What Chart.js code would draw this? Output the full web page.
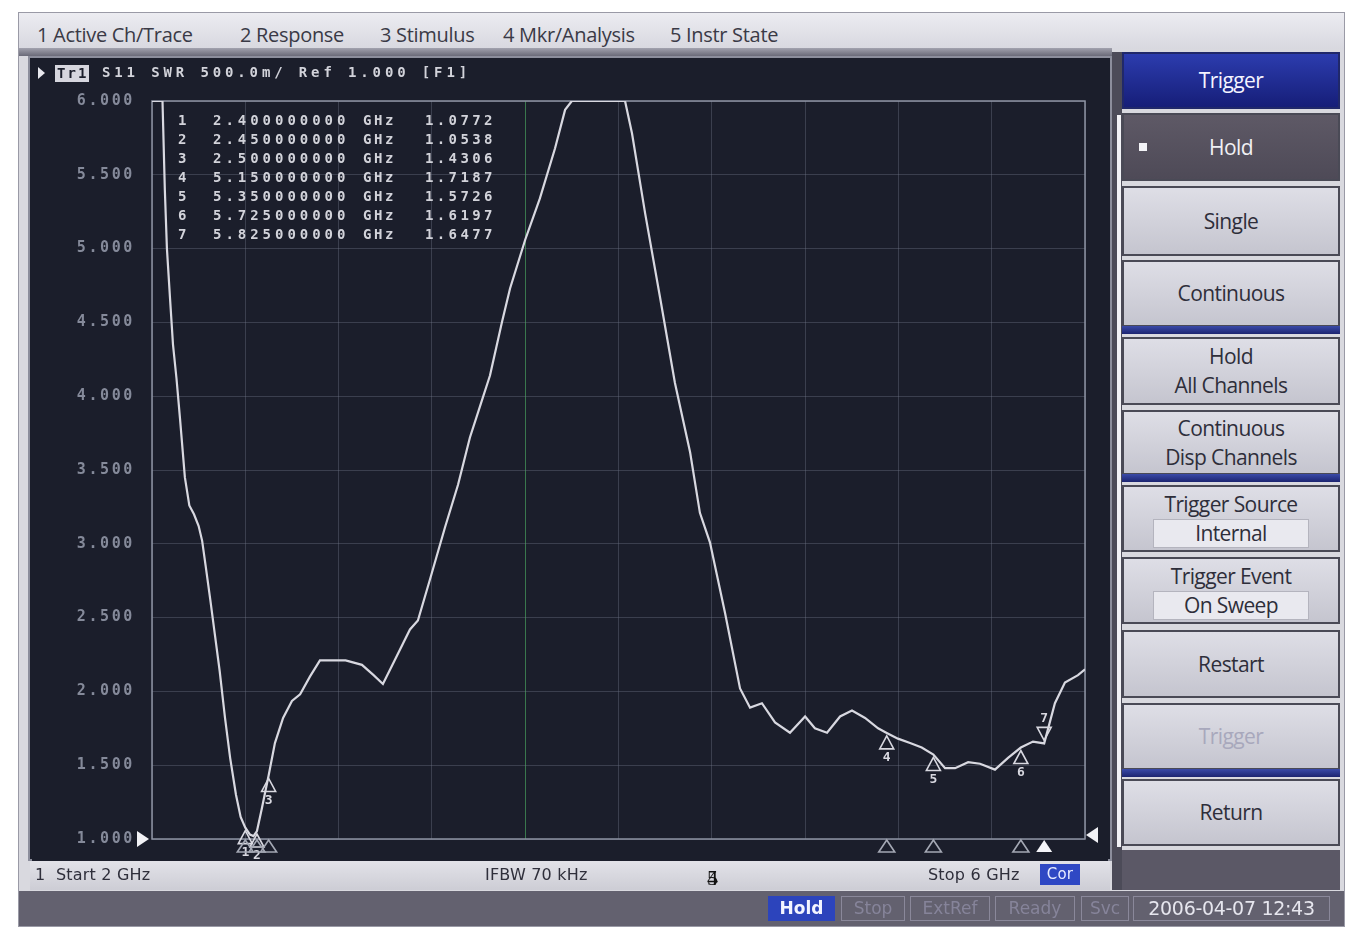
<!DOCTYPE html>
<html>
<head>
<meta charset="utf-8">
<title>S11 SWR</title>
<script src="https://cdn.jsdelivr.net/npm/chart.js@4/dist/chart.umd.min.js"></script>
<style>
  html, body { margin: 0; padding: 0; background: #ffffff; }
  body { width: 1358px; height: 929px; position: relative; overflow: hidden; font-family: "DejaVu Sans", sans-serif; }
  .abs { position: absolute; box-sizing: border-box; }
  #screen { left: 18px; top: 12px; width: 1327px; height: 915px; background: #d9d9df; border: 1px solid #9a9aa6; }
  #menubar { left: 19px; top: 13px; width: 1325px; height: 36px; background: linear-gradient(#ececf1, #d8d8df); }
  .menu { top: 21px; font-size: 20px; color: #3a3a46; letter-spacing: -0.3px; white-space: nowrap; font-family: "Open Sans", sans-serif; }
  #menusep { left: 19px; top: 48px; width: 1093px; height: 8px; background: linear-gradient(#a2a2ae, #6a6a78); }
  #display { left: 28px; top: 56px; width: 1084px; height: 805px; background: #1b1e2b; border: 2px solid #8c8e9c; }
  #plot { left: 32px; top: 58px; }
  #rail { left: 1112px; top: 52px; width: 10px; height: 838px; background: #4c4b58; }
  #railline { left: 1117px; top: 115px; width: 4px; height: 732px; background: #f2f2f6; }
  .key { left: 1122px; width: 218px; background: linear-gradient(#dedee6, #c5c5cf); border: 2px solid #4a4a56;
         color: #2e2e3a; font-size: 21px; letter-spacing: -0.6px; text-align: center; display: flex;
         flex-direction: column; justify-content: center; line-height: 29px; font-family: "Open Sans", sans-serif; }
  .strip { left: 1122px; width: 218px; height: 8px; background: linear-gradient(#3a4aa8, #1c2470); }
  .inner { display: block; margin: 0 auto; width: 154px; height: 27px; line-height: 27px; background: #e9e9ef; border: 1px solid #b4b4be; }
  #bottombar { left: 30px; top: 861px; width: 1080px; height: 29px; background: linear-gradient(#e2e2e8, #cdcdd5); }
  .bt { top: 865px; font-size: 16px; color: #2f2f3b; white-space: nowrap; letter-spacing: 0.2px; font-family: "DejaVu Sans", sans-serif; }
  #status { left: 19px; top: 891px; width: 1325px; height: 35px; background: #63616f; }
  .st { top: 896px; height: 25px; font-size: 17px; line-height: 23px; text-align: center; border: 1px solid #8a889a;
        color: #86849a; font-family: "DejaVu Sans", sans-serif; }
  .glyph { left: 707px; top: 865px; font-family: "Liberation Serif", serif; font-size: 22px; color: #111; }
</style>
</head>
<body>
<div id="screen" class="abs"></div>
<div id="menubar" class="abs"></div>
<div class="abs menu" style="left:37px">1 Active Ch/Trace</div>
<div class="abs menu" style="left:240px">2 Response</div>
<div class="abs menu" style="left:380px">3 Stimulus</div>
<div class="abs menu" style="left:503px">4 Mkr/Analysis</div>
<div class="abs menu" style="left:670px">5 Instr State</div>
<div id="menusep" class="abs"></div>

<div id="display" class="abs"></div>
<canvas id="plot" class="abs" width="1076" height="807" style="width:1076px;height:807px"></canvas>

<div id="rail" class="abs"></div>
<div id="railline" class="abs"></div>

<div class="abs key" style="top:52px;height:57px;background:linear-gradient(#2c3cae,#161e78);color:#f4f4ff;border-color:#20286a;">Trigger</div>
<div class="abs key" style="top:113px;height:68px;background:linear-gradient(#5e5966,#4e4a57);color:#f0f0f4;">Hold</div>
<div class="abs" style="left:1139px;top:143px;width:8px;height:8px;background:#f4f4f8;"></div>
<div class="abs key" style="top:186px;height:70px;">Single</div>
<div class="abs key" style="top:260px;height:67px;">Continuous</div>
<div class="abs strip" style="top:326px"></div>
<div class="abs key" style="top:337px;height:68px;"><span>Hold</span><span>All Channels</span></div>
<div class="abs key" style="top:410px;height:65px;"><span>Continuous</span><span>Disp Channels</span></div>
<div class="abs strip" style="top:474px"></div>
<div class="abs key" style="top:485px;height:67px;"><span>Trigger Source</span><span class="inner">Internal</span></div>
<div class="abs key" style="top:557px;height:67px;"><span>Trigger Event</span><span class="inner">On Sweep</span></div>
<div class="abs key" style="top:630px;height:68px;">Restart</div>
<div class="abs key" style="top:703px;height:67px;color:#a8a8bc;">Trigger</div>
<div class="abs strip" style="top:769px"></div>
<div class="abs key" style="top:779px;height:67px;">Return</div>
<div class="abs" style="left:1122px;top:850px;width:218px;height:40px;background:#5b5866;"></div>

<div id="bottombar" class="abs"></div>
<div class="abs bt" style="left:35px">1&nbsp;&nbsp;Start 2 GHz</div>
<div class="abs bt" style="left:485px">IFBW 70 kHz</div>
<div class="abs bt" style="left:928px">Stop 6 GHz</div>
<div class="abs bt" style="left:1040px;top:864px;width:40px;height:21px;line-height:21px;text-align:center;background:#2f48c4;color:#e8ecff;font-size:15px;">Cor</div>
<div class="abs glyph">4</div>
<div class="abs glyph">5</div>

<div id="status" class="abs"></div>
<div class="abs st" style="left:768px;width:67px;background:#2c44bc;color:#f2f4ff;border-color:#2c44bc;font-weight:bold;">Hold</div>
<div class="abs st" style="left:841px;width:64px;">Stop</div>
<div class="abs st" style="left:910px;width:80px;">ExtRef</div>
<div class="abs st" style="left:995px;width:80px;">Ready</div>
<div class="abs st" style="left:1081px;width:48px;">Svc</div>
<div class="abs st" style="left:1133px;width:197px;color:#e6e6ee;font-size:19px;letter-spacing:-0.3px;">2006-04-07 12:43</div>

<script>
// Swept S11 trace, shown as SWR (2 GHz to 6 GHz).
const freqGHz = [
  2.000, 2.045, 2.055, 2.064, 2.077, 2.090, 2.105, 2.120, 2.141, 2.160,
  2.180, 2.200, 2.215, 2.230, 2.250, 2.270, 2.290, 2.313, 2.335, 2.360,
  2.380, 2.400, 2.420, 2.435, 2.450, 2.470, 2.500, 2.527, 2.562, 2.600,
  2.635, 2.677, 2.720, 2.780, 2.830, 2.900, 2.950, 2.990, 3.040, 3.106,
  3.140, 3.192, 3.256, 3.312, 3.363, 3.410, 3.449, 3.500, 3.535, 3.600,
  3.663, 3.728, 3.771, 3.800, 3.900, 4.028, 4.058, 4.114, 4.178, 4.242,
  4.307, 4.349, 4.392, 4.457, 4.521, 4.564, 4.615, 4.671, 4.735, 4.800,
  4.842, 4.894, 4.950, 5.001, 5.057, 5.113, 5.150, 5.198, 5.250, 5.300,
  5.350, 5.400, 5.443, 5.499, 5.550, 5.614, 5.670, 5.725, 5.777, 5.825,
  5.871, 5.914, 5.970, 6.000
];
const swr = [
  6.000, 6.000, 5.400, 5.000, 4.670, 4.350, 4.120, 3.850, 3.450, 3.260,
  3.200, 3.120, 3.020, 2.850, 2.620, 2.380, 2.140, 1.820, 1.550, 1.300,
  1.150, 1.0772, 1.030, 1.020, 1.0538, 1.200, 1.4306, 1.650, 1.820, 1.935,
  1.980, 2.100, 2.210, 2.210, 2.210, 2.180, 2.110, 2.050, 2.210, 2.420,
  2.480, 2.760, 3.110, 3.400, 3.720, 3.950, 4.140, 4.500, 4.730, 5.060,
  5.340, 5.680, 5.940, 6.000, 6.000, 6.000, 5.780, 5.240, 4.670, 4.090,
  3.620, 3.210, 3.010, 2.530, 2.020, 1.890, 1.920, 1.790, 1.720, 1.830,
  1.750, 1.720, 1.830, 1.870, 1.820, 1.750, 1.7187, 1.680, 1.650, 1.620,
  1.5726, 1.480, 1.480, 1.520, 1.510, 1.470, 1.550, 1.6197, 1.660, 1.6477,
  1.920, 2.060, 2.110, 2.150
];

// Marker readout
const markerNo   = [1, 2, 3, 4, 5, 6, 7];
const markerFreq = [2.400, 2.450, 2.500, 5.150, 5.350, 5.725, 5.825];
const markerSwr  = [1.0772, 1.0538, 1.4306, 1.7187, 1.5726, 1.6197, 1.6477];
const activeMarker = 7;

// Scale settings
const startGHz = 2, stopGHz = 6;
const refValue = 1.0, divValue = 0.5, divisions = 10;
const traceTag = 'Tr1';
const traceTitle = 'S11 SWR 500.0m/ Ref 1.000 [F1]';

const TEXT = '#d2d3da';
const MONO = '"DejaVu Sans Mono", monospace';

function pitchText(ctx, s, x, y, pitch) {
  for (let i = 0; i < s.length; i++) ctx.fillText(s[i], x + i * pitch, y);
}

const screenPlugin = {
  id: 'screen',
  beforeDraw(chart) {
    const ctx = chart.ctx;
    ctx.save();
    ctx.fillStyle = '#1b1e2b';
    ctx.fillRect(0, 0, chart.width, chart.height);
    ctx.restore();
    ctx.letterSpacing = '2.6px';
  },
  beforeDatasetsDraw(chart) {
    const { ctx, chartArea: a } = chart;
    ctx.save();
    ctx.strokeStyle = '#8e94a4';
    ctx.lineWidth = 1.5;
    ctx.strokeRect(a.left, a.top, a.right - a.left, a.bottom - a.top);
    ctx.restore();
  },
  afterDatasetsDraw(chart) {
    const { ctx, chartArea: a, scales: { x, y } } = chart;
    ctx.save();
    ctx.letterSpacing = '0px';
    ctx.textBaseline = 'middle';

    // channel / trace header line
    ctx.fillStyle = '#e8e8ee';
    ctx.beginPath();
    ctx.moveTo(6, 9); ctx.lineTo(13, 15); ctx.lineTo(6, 21); ctx.closePath(); ctx.fill();
    ctx.fillStyle = '#d6d6de';
    ctx.fillRect(23, 7, 34, 17);
    ctx.fillStyle = '#1b1e2b';
    ctx.font = 'bold 14px ' + MONO;
    pitchText(ctx, traceTag, 25, 16, 10.5);
    ctx.fillStyle = TEXT;
    ctx.font = 'bold 14px ' + MONO;
    pitchText(ctx, traceTitle, 70, 15, 12.3);

    // marker table
    ctx.font = 'bold 14px ' + MONO;
    ctx.fillStyle = TEXT;
    for (let i = 0; i < markerNo.length; i++) {
      const ty = 63 + i * 19;
      ctx.fillText(String(markerNo[i]), 146, ty);
      pitchText(ctx, markerFreq[i].toFixed(9), 181, ty, 12.4);
      pitchText(ctx, 'GHz', 331, ty, 11);
      pitchText(ctx, markerSwr[i].toFixed(4), 393, ty, 11.8);
    }

    // markers on the trace
    ctx.strokeStyle = '#d8d8e0';
    ctx.lineWidth = 1.6;
    ctx.font = 'bold 13px ' + MONO;
    ctx.textAlign = 'center';
    for (let i = 0; i < markerNo.length; i++) {
      const px = x.getPixelForValue(markerFreq[i]);
      const py = y.getPixelForValue(markerSwr[i]);
      ctx.beginPath();
      if (markerNo[i] === activeMarker) {
        ctx.moveTo(px, py - 3); ctx.lineTo(px - 7, py - 16); ctx.lineTo(px + 7, py - 16); ctx.closePath();
        ctx.stroke();
        ctx.fillStyle = '#d8d8e0';
        ctx.fillText(String(markerNo[i]), px, py - 25);
      } else {
        ctx.moveTo(px, py + 3); ctx.lineTo(px - 7, py + 16); ctx.lineTo(px + 7, py + 16); ctx.closePath();
        ctx.stroke();
        ctx.fillStyle = '#d8d8e0';
        ctx.fillText(String(markerNo[i]), px, py + 25);
      }
    }

    // marker positions along the bottom edge
    for (let i = 0; i < markerNo.length; i++) {
      const px = x.getPixelForValue(markerFreq[i]);
      ctx.beginPath();
      ctx.moveTo(px, a.bottom + 1); ctx.lineTo(px - 8, a.bottom + 13); ctx.lineTo(px + 8, a.bottom + 13); ctx.closePath();
      if (markerNo[i] === activeMarker) { ctx.fillStyle = '#f4f4f8'; ctx.fill(); }
      else { ctx.strokeStyle = '#a4a8b4'; ctx.stroke(); }
    }

    // reference level pointers
    const ry = y.getPixelForValue(refValue);
    ctx.fillStyle = '#f2f2f6';
    ctx.beginPath();
    ctx.moveTo(a.left - 15, ry - 8); ctx.lineTo(a.left - 3, ry); ctx.lineTo(a.left - 15, ry + 8); ctx.closePath(); ctx.fill();
    ctx.beginPath();
    ctx.moveTo(a.right + 13, ry - 12); ctx.lineTo(a.right + 1, ry - 4); ctx.lineTo(a.right + 13, ry + 4); ctx.closePath(); ctx.fill();
    ctx.restore();
  },
  afterDraw(chart) {
    chart.ctx.letterSpacing = '0px';
  }
};

new Chart(document.getElementById('plot'), {
  type: 'line',
  data: {
    datasets: [{
      label: 'S11 SWR',
      data: freqGHz.map((f, i) => ({ x: f, y: swr[i] })),
      borderColor: '#d8d8e0',
      borderWidth: 2.2,
      pointRadius: 0,
      tension: 0,
      fill: false
    }]
  },
  options: {
    responsive: false,
    animation: false,
    devicePixelRatio: 1,
    layout: { padding: { top: 43, right: 23, bottom: 10, left: 0 } },
    plugins: { legend: { display: false }, tooltip: { enabled: false } },
    scales: {
      x: {
        type: 'linear',
        min: startGHz, max: stopGHz,
        ticks: { display: false, stepSize: (stopGHz - startGHz) / divisions },
        grid: {
          drawTicks: false,
          lineWidth: 1,
          color: c => c.index === 4 ? 'rgba(70,150,90,0.75)' : 'rgba(112,118,136,0.38)'
        },
        border: { display: false },
        afterFit: s => { s.height = 0; }
      },
      y: {
        type: 'linear',
        min: refValue, max: refValue + divValue * divisions,
        ticks: {
          stepSize: divValue,
          padding: 17,
          color: '#858a9a',
          font: { family: MONO, size: 15, weight: 'bold' },
          callback: v => Number(v).toFixed(3)
        },
        grid: { drawTicks: false, lineWidth: 1, color: 'rgba(112,118,136,0.38)' },
        border: { display: false },
        afterFit: s => { s.width = 120; }
      }
    }
  },
  plugins: [screenPlugin]
});
</script>
</body>
</html>
